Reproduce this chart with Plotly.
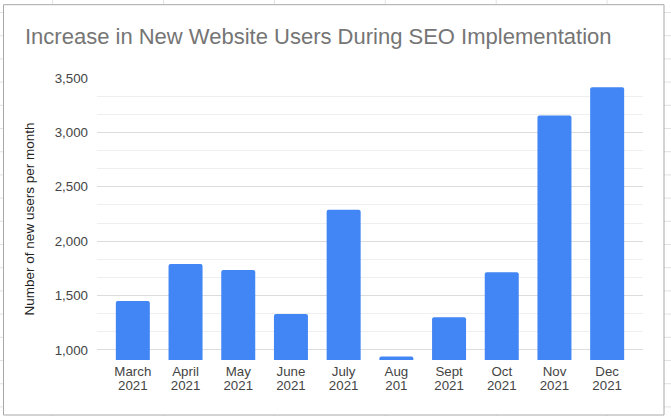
import plotly.graph_objects as go

months = ["March<br>2021", "April<br>2021", "May<br>2021", "June<br>2021", "July<br>2021",
          "Aug<br>201", "Sept<br>2021", "Oct<br>2021", "Nov<br>2021", "Dec<br>2021"]
new_users = [1450, 1790, 1735, 1330, 2290, 940, 1300, 1715, 3155, 3415]
y_ticks = [1000, 1500, 2000, 2500, 3000, 3500]
y_tick_labels = ["1,000", "1,500", "2,000", "2,500", "3,000", "3,500"]

month_line = [m.split("<br>")[0] for m in months]
year_line = [m.split("<br>")[1] for m in months]

W, H = 671, 416
ML, MR, MT, MB = 97, 28, 78, 56
PW, PH = W - ML - MR, H - MT - MB


def px_x(p):
    return (p - ML) / PW


def px_y(p):
    return (H - MB - p) / PH


shapes = []
sheet_line = "#e2e2e2"
for k in range(6):
    xv = px_x(52.6 + 110.9 * k)
    shapes.append(dict(type="line", xref="paper", yref="paper", x0=xv, x1=xv,
                       y0=px_y(0), y1=px_y(H), line=dict(color=sheet_line, width=1),
                       layer="below"))
for k in range(18):
    yv = px_y(12.5 + 23.2 * k)
    shapes.append(dict(type="line", xref="paper", yref="paper", x0=px_x(0), x1=px_x(W),
                       y0=yv, y1=yv, line=dict(color=sheet_line, width=1), layer="below"))
shapes.append(dict(type="rect", xref="paper", yref="paper",
                   x0=px_x(3.5), x1=px_x(664), y0=px_y(4.7), y1=px_y(415),
                   fillcolor="white", line=dict(color="#a8a8a8", width=1), layer="below"))

fig = go.Figure()
fig.add_trace(go.Bar(
    x=months, y=new_users,
    marker=dict(color="#4285F4", cornerradius=2, line=dict(width=0)),
    hoverinfo="x+y",
))
# invisible companion trace so the second (year) label axis is drawn
fig.add_trace(go.Scatter(x=months, y=new_users, xaxis="x2", mode="markers",
                         marker=dict(opacity=0), hoverinfo="skip", showlegend=False))

font_family = "Arial, Liberation Sans, sans-serif"
tick_font = dict(family=font_family, size=13.3, color="#444444")
fig.update_layout(
    width=W, height=H,
    margin=dict(l=ML, r=MR, t=MT, b=MB),
    paper_bgcolor="white", plot_bgcolor="rgba(0,0,0,0)",
    font=dict(family=font_family, size=13, color="#444444"),
    title=dict(text="Increase in New Website Users During SEO Implementation",
               x=25 / W, xref="container", xanchor="left",
               y=1 - 36 / H, yref="container", yanchor="middle",
               font=dict(family=font_family, size=22, color="#757575")),
    bargap=0.355,
    showlegend=False,
    shapes=shapes,
    xaxis=dict(range=[-0.68, 9.68], type="category", showgrid=False, zeroline=False,
               showline=False, ticks="", tickmode="array", tickvals=months,
               ticktext=month_line, tickfont=tick_font, ticklabelstandoff=2),
    xaxis2=dict(overlaying="x", matches="x", side="bottom", type="category",
                showgrid=False, zeroline=False, showline=False, ticks="",
                tickmode="array", tickvals=months, ticktext=year_line,
                tickfont=tick_font, ticklabelstandoff=16),
    yaxis=dict(range=[908, 3500], tickvals=y_ticks, ticktext=y_tick_labels,
               showgrid=True, gridcolor="#dcdcdc", gridwidth=1, zeroline=False,
               showline=False, ticks="", ticklabelstandoff=8, tickfont=tick_font,
               minor=dict(tick0=1000, dtick=500 / 3, showgrid=True,
                          gridcolor="#efefef", gridwidth=1),
               title=dict(text="Number of new users per month", standoff=16,
                          font=dict(family=font_family, size=13.5, color="#222222"))),
)

fig.write_html("out.html", config={"displayModeBar": False},
               post_script="document.body.style.margin='0';")
